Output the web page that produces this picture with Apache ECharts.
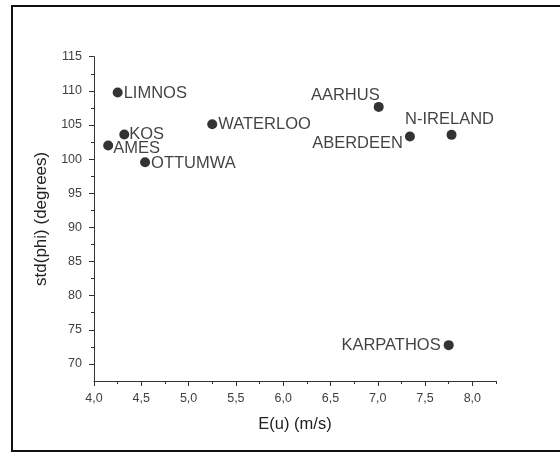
<!DOCTYPE html>
<html>
<head>
<meta charset="utf-8">
<script src="https://cdn.jsdelivr.net/npm/echarts@6/dist/echarts.min.js"></script>
<style>
  html, body { margin: 0; padding: 0; background: #fff; }
  #chart { width: 560px; height: 453px; }
</style>
</head>
<body>
<div id="chart"></div>
<script>
// Sites and their wind statistics
const sites = ['LIMNOS', 'KOS', 'AMES', 'OTTUMWA', 'WATERLOO', 'AARHUS', 'ABERDEEN', 'N-IRELAND', 'KARPATHOS'];
const meanWind = [4.25, 4.32, 4.15, 4.54, 5.25, 7.01, 7.34, 7.78, 7.75];     // E(u) in m/s
const stdPhi = [109.75, 103.6, 102.0, 99.55, 105.1, 107.65, 103.3, 103.55, 72.75]; // degrees

// Axis tick values
const xMajorTicks = [4.0, 4.5, 5.0, 5.5, 6.0, 6.5, 7.0, 7.5, 8.0];
const xMinorTicks = [4.25, 4.75, 5.25, 5.75, 6.25, 6.75, 7.25, 7.75, 8.25];
const yMajorTicks = [70, 75, 80, 85, 90, 95, 100, 105, 110, 115];
const yMinorTicks = [72.5, 77.5, 82.5, 87.5, 92.5, 97.5, 102.5, 107.5, 112.5];

// Where each site's name sits around its dot: [position, dx, dy]
const labelPlacement = {
  'LIMNOS': ['right', 1, 1],
  'KOS': ['right', 0, 0],
  'AMES': ['right', 0, 3],
  'OTTUMWA': ['right', 1, 1],
  'WATERLOO': ['right', 1, 0],
  'AARHUS': ['left', 6, -11],
  'ABERDEEN': ['left', -2, 7],
  'N-IRELAND': ['top', -2, -2],
  'KARPATHOS': ['left', -3, 0]
};

const FONT = '"Liberation Sans", Arial, sans-serif';
const AXIS_COLOR = '#333';

const points = sites.map((name, i) => ({
  name: name,
  value: [meanWind[i], stdPhi[i]],
  label: { position: labelPlacement[name][0] }
}));

const chart = echarts.init(document.getElementById('chart'), null, { renderer: 'canvas' });

const baseX = { type: 'value', min: 4.0, max: 8.25, gridIndex: 0, position: 'bottom', splitLine: { show: false } };
const baseY = { type: 'value', min: 67.5, max: 115, gridIndex: 0, position: 'left', splitLine: { show: false } };

chart.setOption({
  backgroundColor: '#fff',
  animation: false,
  textStyle: { fontFamily: FONT },
  graphic: [{
    type: 'rect',
    shape: { x: 12, y: 6, width: 600, height: 445 },
    style: { fill: 'none', stroke: '#111', lineWidth: 2 },
    silent: true
  }],
  grid: { left: 94, right: 64, top: 56.7, bottom: 72, containLabel: false },
  xAxis: [
    Object.assign({}, baseX, {
      name: 'E(u) (m/s)',
      nameLocation: 'middle',
      nameGap: 35,
      nameTextStyle: { fontSize: 16.5, color: '#222', fontFamily: FONT },
      axisLine: { show: true, lineStyle: { color: AXIS_COLOR, width: 1 } },
      axisTick: { show: true, length: 5, customValues: xMajorTicks, lineStyle: { color: AXIS_COLOR } },
      axisLabel: {
        show: true, margin: 11, fontSize: 12.5, color: '#404040', fontFamily: FONT,
        customValues: xMajorTicks,
        formatter: v => v.toFixed(1).replace('.', ',')
      }
    }),
    Object.assign({}, baseX, {
      axisLine: { show: false },
      axisTick: { show: true, length: 3, customValues: xMinorTicks, lineStyle: { color: AXIS_COLOR } },
      axisLabel: { show: false }
    })
  ],
  yAxis: [
    Object.assign({}, baseY, {
      name: 'std(phi) (degrees)',
      nameLocation: 'middle',
      nameGap: 37,
      nameTextStyle: { fontSize: 17, color: '#222', fontFamily: FONT },
      axisLine: { show: true, lineStyle: { color: AXIS_COLOR, width: 1 } },
      axisTick: { show: true, length: 5, customValues: yMajorTicks, lineStyle: { color: AXIS_COLOR } },
      axisLabel: {
        show: true, margin: 12, fontSize: 12.5, color: '#404040', fontFamily: FONT,
        customValues: yMajorTicks,
        formatter: v => String(Math.round(v))
      }
    }),
    Object.assign({}, baseY, {
      axisLine: { show: false },
      axisTick: { show: true, length: 3, customValues: yMinorTicks, lineStyle: { color: AXIS_COLOR } },
      axisLabel: { show: false }
    })
  ],
  series: [{
    type: 'scatter',
    xAxisIndex: 0,
    yAxisIndex: 0,
    symbol: 'circle',
    symbolSize: 10,
    itemStyle: { color: '#000' },
    label: {
      show: true,
      distance: 0,
      formatter: p => p.name,
      fontSize: 16.5,
      color: '#111',
      fontFamily: FONT
    },
    labelLayout: function (params) {
      const p = labelPlacement[sites[params.dataIndex]];
      return { dx: p[1], dy: p[2], hideOverlap: false };
    },
    data: points
  }]
});
</script>
</body>
</html>
